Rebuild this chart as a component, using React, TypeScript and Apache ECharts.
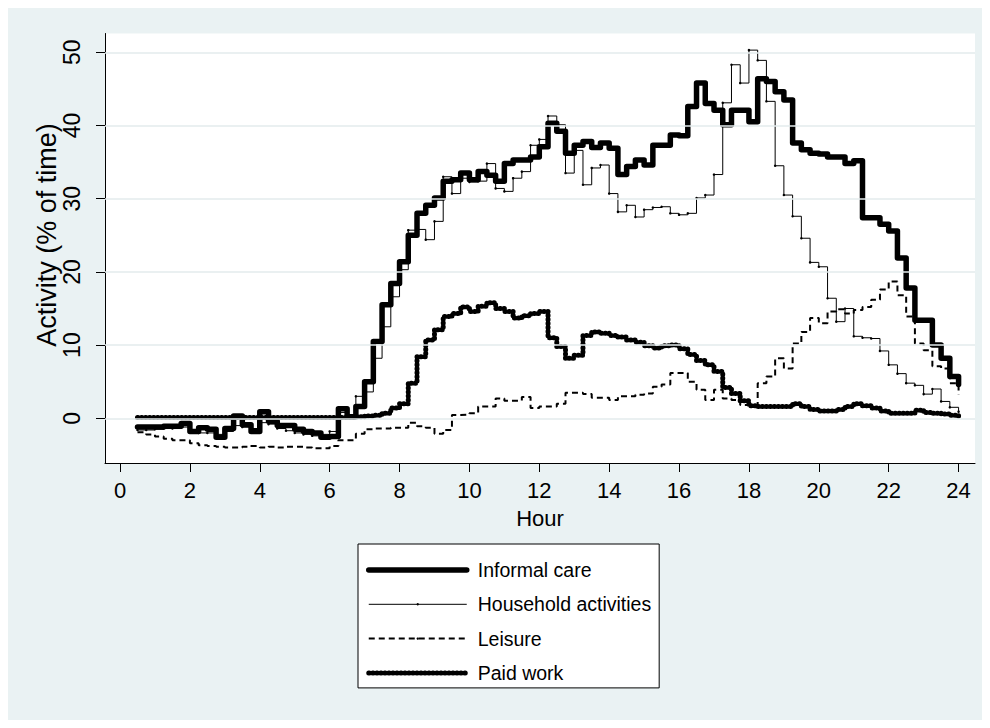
import React, { useEffect, useRef } from "react";
import * as echarts from "echarts";

// Quarter-hour time points (hours)
const HOURS = [
  0.5, 0.75, 1, 1.25, 1.5, 1.75, 2, 2.25, 2.5, 2.75, 3, 3.25, 3.5, 3.75, 4, 4.25,
  4.5, 4.75, 5, 5.25, 5.5, 5.75, 6, 6.25, 6.5, 6.75, 7, 7.25, 7.5, 7.75, 8, 8.25,
  8.5, 8.75, 9, 9.25, 9.5, 9.75, 10, 10.25, 10.5, 10.75, 11, 11.25, 11.5, 11.75,
  12, 12.25, 12.5, 12.75, 13, 13.25, 13.5, 13.75, 14, 14.25, 14.5, 14.75, 15,
  15.25, 15.5, 15.75, 16, 16.25, 16.5, 16.75, 17, 17.25, 17.5, 17.75, 18, 18.25,
  18.5, 18.75, 19, 19.25, 19.5, 19.75, 20, 20.25, 20.5, 20.75, 21, 21.25, 21.5,
  21.75, 22, 22.25, 22.5, 22.75, 23, 23.25, 23.5, 23.75, 24,
];

const INFORMAL_CARE = [
  -1.2, -1.2, -1.2, -1.1, -1.1, -0.7, -1.8, -1.3, -1.5, -2.6, -1.4, 0.3, -0.9, -1.8, 0.9, -0.4,
  -1.0, -1.0, -1.5, -1.8, -2.0, -2.6, -2.5, 1.3, 0.2, 1.6, 5.0, 10.5, 15.5, 18.4, 21.4, 25.0,
  28.0, 29.1, 30.1, 32.4, 32.6, 33.5, 32.6, 33.7, 33.2, 32.4, 34.8, 35.3, 35.3, 35.7,
  37.1, 40.3, 39.2, 36.2, 37.3, 37.8, 37.0, 37.6, 36.9, 33.3, 34.4, 35.3, 34.6,
  37.3, 37.3, 38.7, 38.6, 42.6, 45.8, 43.0, 42.1, 40.1, 42.1, 42.1, 40.5, 46.4,
  46.0, 44.6, 43.5, 37.6, 36.7, 36.2, 36.1, 35.7, 35.7, 34.8, 35.2, 27.4, 27.4,
  26.5, 25.6, 21.9, 17.8, 13.4, 13.4, 10.0, 8.2, 5.7, 4.6,
];

const HOUSEHOLD = [
  -1.6, -1.6, -1.5, -1.4, -1.4, -1.2, -1.6, -2.0, -2.0, -2.2, -1.8, -1.0, -1.2, -1.4, -0.6, -0.8,
  -1.4, -1.7, -2.0, -2.2, -2.4, -2.2, -1.8, 0.8, 0.5, 3.0, 3.6, 8.2, 12.5, 16.6, 20.3, 25.7,
  25.8, 24.4, 26.9, 33.0, 30.7, 32.8, 32.3, 32.4, 34.8, 31.4, 31.0, 32.8, 33.7, 37.3,
  38.1, 41.3, 40.1, 33.5, 36.6, 31.9, 34.2, 34.6, 30.7, 28.2, 29.1, 27.5, 28.5,
  28.8, 28.9, 28.0, 27.8, 28.0, 30.1, 30.5, 33.3, 43.1, 48.3, 45.8, 50.3, 48.9,
  43.3, 34.5, 30.5, 27.6, 24.6, 21.3, 20.7, 16.4, 13.2, 15.0, 11.2, 11.0, 10.9,
  9.2, 7.3, 6.1, 4.8, 4.5, 3.3, 4.0, 2.3, 1.5, 0.9,
];

const LEISURE = [
  -1.9, -2.2, -2.5, -2.8, -3.0, -3.0, -3.4, -3.7, -3.8, -3.9, -4.0, -4.0, -3.9, -3.8, -4.0, -3.9,
  -4.0, -3.9, -3.9, -4.0, -4.1, -4.1, -3.8, -3.0, -3.0, -2.1, -1.5, -1.4, -1.4, -1.3, -1.3, -0.6,
  -1.1, -1.3, -2.1, -1.6, 0.45, 0.5, 0.7, 1.6, 1.6, 2.7, 2.4, 2.4, 2.9, 1.4,
  1.6, 1.6, 2.0, 3.5, 3.5, 3.3, 2.8, 2.8, 2.5, 3.0, 3.0, 3.2, 3.4,
  4.3, 4.6, 6.2, 6.2, 5.0, 3.9, 2.5, 3.9, 2.7, 2.5, 1.8, 1.8, 4.8,
  5.7, 8.2, 6.8, 10.2, 11.8, 13.7, 13.0, 14.6, 14.9, 14.3, 14.8, 15.2, 16.2,
  17.6, 18.7, 16.8, 13.9, 10.2, 9.3, 7.1, 6.8, 4.8, 3.2,
];

const PAID_WORK = [
  0.1, 0.1, 0.1, 0.1, 0.1, 0.1, 0.1, 0.1, 0.1, 0.1, 0.1, 0.1, 0.1, 0.1, 0.1, 0.1,
  0.1, 0.1, 0.1, 0.1, 0.1, 0.1, 0.1, 0.1, 0.1, 0.2, 0.3, 0.4, 0.7, 1.4, 2.0, 4.8,
  8.4, 10.7, 12.1, 13.9, 14.3, 15.2, 14.6, 15.3, 15.8, 15.0, 14.6, 13.7, 14.0, 14.3,
  14.6, 11.0, 9.8, 8.2, 8.6, 11.3, 11.8, 11.6, 11.3, 11.1, 10.7, 10.4, 9.9,
  9.6, 9.9, 10.0, 9.5, 8.7, 7.9, 7.3, 6.4, 4.2, 3.4, 2.4, 1.7, 1.6,
  1.6, 1.6, 1.6, 2.0, 1.6, 1.2, 1.0, 1.0, 1.2, 1.6, 2.0, 1.7, 1.4,
  1.0, 0.7, 0.7, 0.7, 1.1, 0.8, 0.7, 0.6, 0.4, 0.3,
];

const X_TICKS = [0, 2, 4, 6, 8, 10, 12, 14, 16, 18, 20, 22, 24];
const Y_TICKS = [0, 10, 20, 30, 40, 50];
const SERIES_NAMES = ["Informal care", "Household activities", "Leisure", "Paid work"];
const X_TITLE = "Hour";
const Y_TITLE = "Activity (% of time)";

const pair = (ys: number[]) => HOURS.map((h, i) => [h, ys[i]]);

export default function App() {
  const ref = useRef<HTMLDivElement>(null);

  useEffect(() => {
    if (!ref.current) return;
    const chart = echarts.init(ref.current, null, { renderer: "svg" });
    const font = "'Liberation Sans', Arial, Helvetica, sans-serif";
    chart.setOption({
      animation: false,
      backgroundColor: "#EAF2F3",
      textStyle: { fontFamily: font },
      grid: {
        left: 97,
        right: 7,
        top: 25.5,
        bottom: 257,
        show: true,
        backgroundColor: "#FFFFFF",
        borderWidth: 0,
        containLabel: false,
        outerBoundsMode: "none",
      },
      xAxis: {
        type: "value",
        min: -0.43,
        max: 24.47,
        axisLine: { show: true, onZero: false, lineStyle: { color: "#000", width: 1 } },
        axisTick: { show: true, length: 9, customValues: X_TICKS, lineStyle: { color: "#000", width: 1 } },
        axisLabel: { customValues: X_TICKS, fontSize: 22, color: "#000", margin: 16, fontFamily: font },
        splitLine: { show: false },
        name: X_TITLE,
        nameLocation: "middle",
        nameGap: 44,
        nameTextStyle: { fontSize: 22, color: "#000", fontFamily: font },
      },
      yAxis: {
        type: "value",
        min: -6.11,
        max: 52.57,
        axisLine: { show: true, onZero: false, lineStyle: { color: "#000", width: 1 } },
        axisTick: { show: true, length: 9, customValues: Y_TICKS, lineStyle: { color: "#000", width: 1 } },
        axisLabel: { customValues: Y_TICKS, rotate: 90, fontSize: 23, color: "#000", margin: 22, fontFamily: font },
        splitLine: { show: false },
      },
      legend: {
        show: true,
        orient: "vertical",
        left: 350,
        top: 536,
        data: SERIES_NAMES,
        itemWidth: 98,
        itemHeight: 3,
        itemGap: 14.3,
        padding: [16, 8, 5, 8],
        backgroundColor: "#FFFFFF",
        borderColor: "#000",
        borderWidth: 1,
        borderRadius: 0,
        selectedMode: false,
        textStyle: { fontSize: 19.5, color: "#000", fontFamily: font, lineHeight: 20, padding: [0, 0, 0, 6] },
        lineStyle: { width: "inherit" },
        itemStyle: { borderWidth: 0 },
      },
      graphic: [
        {
          type: "text",
          x: 39,
          y: 227,
          rotation: Math.PI / 2,
          silent: true,
          style: {
            text: Y_TITLE,
            fontSize: 27,
            fontFamily: font,
            fill: "#000",
            align: "center",
            verticalAlign: "middle",
            textAlign: "center",
            textVerticalAlign: "middle",
          },
        },
      ],
      series: [
        {
          name: "_grid",
          type: "line",
          data: [],
          silent: true,
          z: 1,
          markLine: {
            silent: true,
            symbol: ["none", "none"],
            label: { show: false },
            lineStyle: { color: "#E3EBED", width: 1.5, type: "solid" },
            emphasis: { disabled: true },
            data: Y_TICKS.map((v) => ({ yAxis: v })),
          },
        },
        {
          name: SERIES_NAMES[0],
          type: "line",
          step: "end",
          data: pair(INFORMAL_CARE),
          symbol: "none",
          silent: true,
          z: 3,
          lineStyle: { color: "#000", width: 5.5, join: "round", cap: "round" },
          itemStyle: { color: "#000" },
        },
        {
          name: SERIES_NAMES[1],
          type: "line",
          step: "end",
          data: pair(HOUSEHOLD),
          symbol: "circle",
          symbolSize: 2.5,
          showSymbol: true,
          silent: true,
          z: 4,
          lineStyle: { color: "#000", width: 1 },
          itemStyle: { color: "#000", borderWidth: 0 },
        },
        {
          name: SERIES_NAMES[2],
          type: "line",
          step: "end",
          data: pair(LEISURE),
          symbol: "circle",
          symbolSize: 2.5,
          showSymbol: false,
          silent: true,
          z: 4,
          lineStyle: { color: "#000", width: 2, type: [6, 4] },
          itemStyle: { color: "#000", borderWidth: 0 },
        },
        {
          name: SERIES_NAMES[3],
          type: "line",
          step: "end",
          data: pair(PAID_WORK),
          symbol: "none",
          silent: true,
          z: 4,
          lineStyle: { color: "#000", width: 5, type: [0.5, 3.5], cap: "round", join: "round" },
          itemStyle: { color: "#000" },
        },
      ],
    });
    return () => chart.dispose();
  }, []);

  return <div ref={ref} style={{ width: 974, height: 712 }} />;
}
